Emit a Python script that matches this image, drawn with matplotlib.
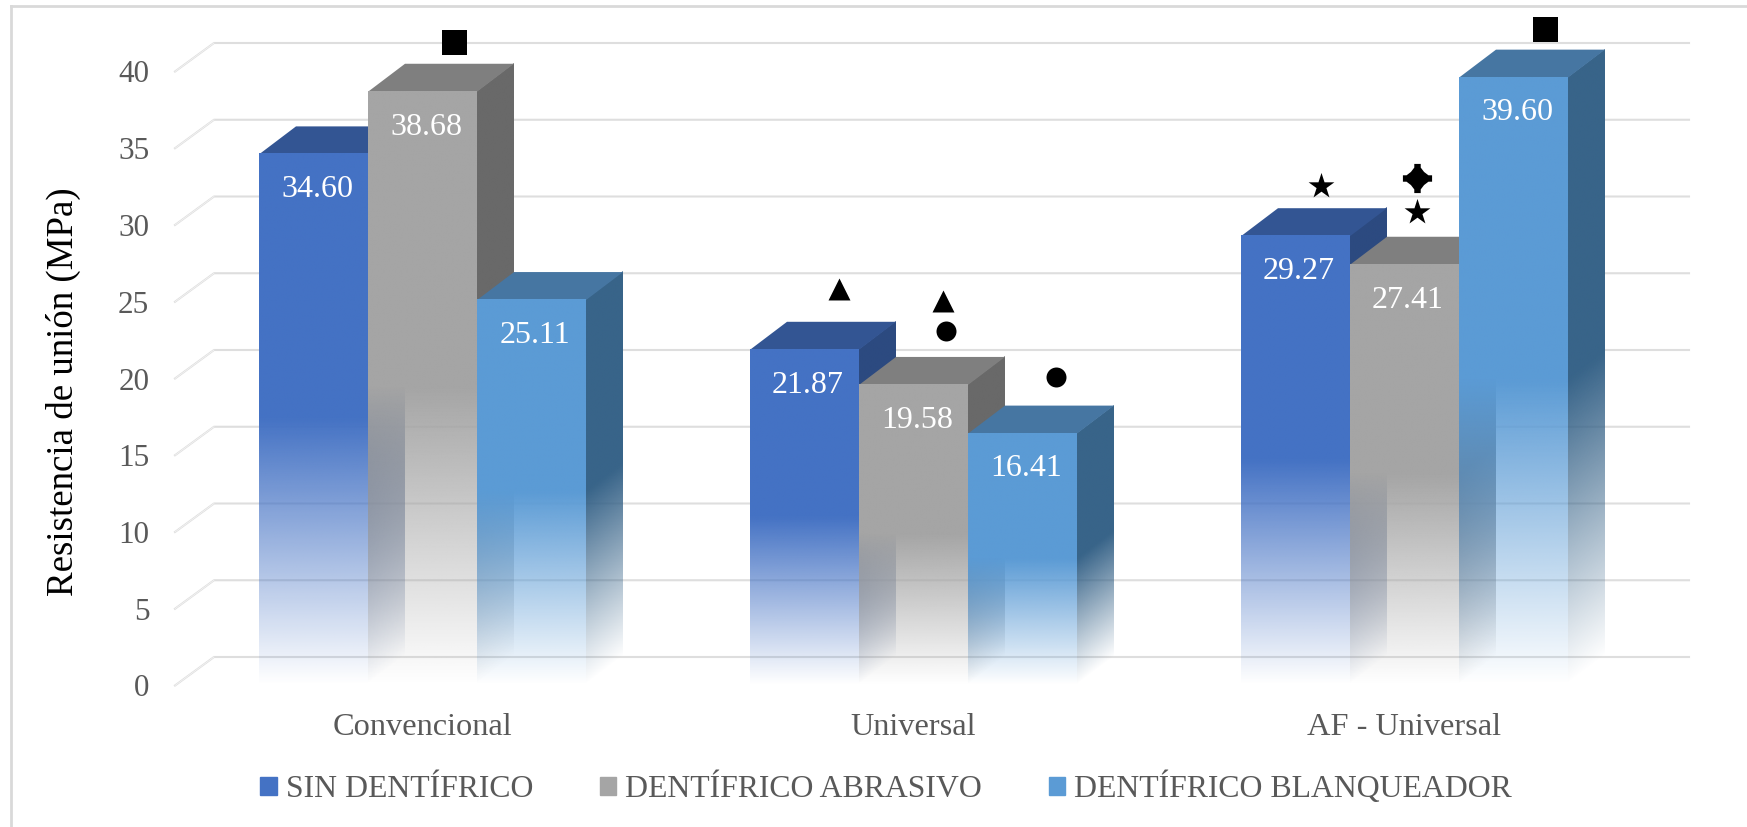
import numpy as np
import matplotlib
matplotlib.use("Agg")
import matplotlib.pyplot as plt
from matplotlib.colors import to_rgb
from matplotlib.patches import Patch
from matplotlib.path import Path
from matplotlib.lines import Line2D
from matplotlib.transforms import Affine2D

plt.rcParams['font.family'] = ['Liberation Serif', 'DejaVu Serif']

W, H = 1747, 827

groups = ["Convencional", "Universal", "AF - Universal"]
series = ["SIN DENTÍFRICO", "DENTÍFRICO ABRASIVO", "DENTÍFRICO BLANQUEADOR"]
sin_dent = [34.60, 21.87, 29.27]
abrasivo = [38.68, 19.58, 27.41]
blanqueador = [25.11, 16.41, 39.60]
yticks = [0, 5, 10, 15, 20, 25, 30, 35, 40]

# group, bar, symbol
mark_group = [0, 1, 1, 1, 1, 2, 2, 2, 2]
mark_bar = [1, 0, 1, 1, 2, 0, 1, 1, 2]
mark_symbol = ["s", "^", "^", "o", "o", "*", "*", "+", "s"]

# how far the symbols sit from the bar, x in bar widths, y in MPa
mark_dx = [0.285, 0.32, 0.275, 0.30, 0.305, 0.23, 0.115, 0.115, 0.285]
mark_dy = [3.24, 3.96, 5.50, 3.50, 3.70, 3.29, 3.46, 5.65, 3.14]

front = ["#4472C4", "#A5A5A5", "#5B9BD5"]
top = ["#335593", "#7F7F7F", "#4676A2"]
side = ["#2C4A80", "#696969", "#386489"]
mark_size = {"s": 324, "^": 250, "o": 207, "*": 380, "+": 441}

# pixel scale of the drawing
px_y = 15.35
px_x = 491.0
x0_px = 422.5
floor_px = 685.5
left_px, right_px = 175, 1689
ylim_top = 44.0

bar_w = 109.0 / px_x
depth_x = 37.0 / px_x
depth_y = 28.0 / px_y
grid_dx = 39.0 / px_x
grid_dy = 28.5 / px_y

fig = plt.figure(figsize=(W / 100, H / 100), dpi=100, facecolor="white")
ax = fig.add_axes([left_px / W, 1 - floor_px / H,
                   (right_px - left_px) / W, ylim_top * px_y / H])
xs = ((left_px - x0_px) / px_x, (right_px - x0_px) / px_x)
ax.patch.set_alpha(0)
for s in ax.spines.values():
    s.set_visible(False)

# frame, only the left and top edge are in the picture
fig.add_artist(Line2D([11 / W, 11 / W], [0, 1 - 6 / H], color="#d9d9d9", lw=2))
fig.add_artist(Line2D([11 / W, 1], [1 - 6 / H, 1 - 6 / H], color="#d9d9d9", lw=2))

# floor and wall lines
for v in yticks:
    ax.plot([xs[0], xs[0] + grid_dx, xs[1]], [v, v + grid_dy, v + grid_dy],
            color="#dedede", lw=1.5, solid_joinstyle="round", zorder=1, clip_on=False)
    ax.plot([xs[0], xs[0] + grid_dx], [v, v + grid_dy],
            color="#f6f6f6", lw=0.5, zorder=1.1, clip_on=False)


def face(x_l, x_r, v, color, z, shear=0.0):
    # top half solid, lower half fades out
    n = 200
    img = np.zeros((n, 1, 4))
    img[:, 0, :3] = to_rgb(color)
    img[:, 0, 3] = np.clip(np.linspace(0, 1, n) / 0.5, 0, 1)
    im = ax.imshow(np.repeat(img, 2, axis=1), origin="lower", extent=(x_l, x_r, 0, v),
                   aspect="auto", interpolation="bilinear", zorder=z, clip_on=False)
    if shear:
        im.set_transform(Affine2D(np.array([[1, 0, 0], [shear, 1, -shear * x_l], [0, 0, 1]]))
                         + ax.transData)


values = [sin_dent, abrasivo, blanqueador]
z = 2.0
for g in range(len(groups)):
    for b in range(len(series)):
        v = values[b][g]
        xl = g + (b - 1.5) * bar_w
        xr = xl + bar_w
        face(xr, xr + depth_x, v, side[b], z, shear=depth_y / depth_x)
        ax.fill([xl, xr, xr + depth_x, xl + depth_x],
                [v, v, v + depth_y, v + depth_y], color=top[b], lw=0, zorder=z + 0.1)
        face(xl, xr, v, front[b], z + 0.2)
        ax.text(xl + bar_w / 2 + 3.5 / px_x, v - 2.3, "%.2f" % v, color="white", fontsize=23,
                ha="center", va="center", zorder=20)
        z += 0.5

ax.set_xlim(*xs)
ax.set_ylim(0, ylim_top)

# rounded four point sign
c = 0.22
d = 0.45
e = 0.75
four = Path([(-c, 1), (c, 1), (c, e), (d, d), (e, c), (1, c), (1, -c), (e, -c),
             (d, -d), (c, -e), (c, -1), (-c, -1), (-c, -e), (-d, -d), (-e, -c),
             (-1, -c), (-1, c), (-e, c), (-d, d), (-c, e), (-c, 1)], closed=True)

for g, b, sym, dx, dy in zip(mark_group, mark_bar, mark_symbol, mark_dx, mark_dy):
    x = g + (b - 1) * bar_w + dx * bar_w
    y = values[b][g] + dy
    ax.scatter([x], [y], marker=four if sym == "+" else sym, s=mark_size[sym],
               color="black", linewidths=0, zorder=30, clip_on=False)

ax.set_yticks(yticks)
ax.set_xticks(range(len(groups)))
ax.set_xticklabels(groups)
ax.tick_params(axis="both", length=0, labelcolor="#595959")
ax.tick_params(axis="y", pad=18.5, labelsize=22.4)
ax.tick_params(axis="x", pad=20, labelsize=23.3)

fig.text(63.5 / W, 1 - 392 / H, "Resistencia de unión (MPa)", rotation=90, color="black",
         fontsize=26.6, ha="center", va="center")

handles = [Patch(color=c_) for c_ in front]
leg = fig.legend(handles, series, ncol=3, frameon=False, loc="center",
                 bbox_to_anchor=(886 / W, 1 - 788 / H), fontsize=22.85,
                 labelcolor="#595959", handlelength=0.52, handleheight=0.52,
                 handletextpad=0.28, columnspacing=2.1, borderpad=0, borderaxespad=0)

fig.savefig("out.png", dpi=100, facecolor="white")
